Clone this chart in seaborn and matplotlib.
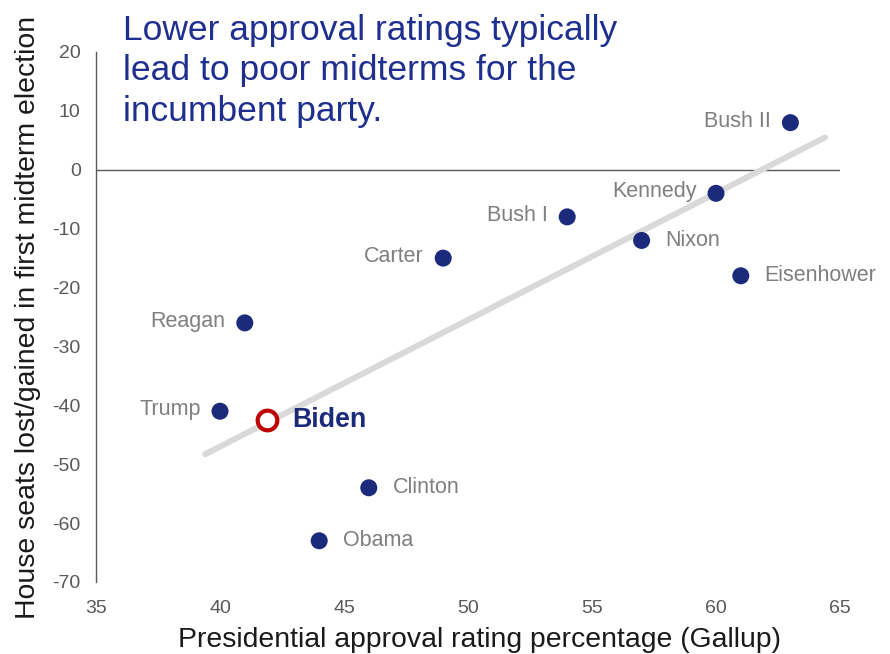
import numpy as np
import pandas as pd
import matplotlib
matplotlib.use("Agg")
import matplotlib.pyplot as plt
import seaborn as sns

presidents = ["Bush II", "Kennedy", "Bush I", "Nixon", "Eisenhower", "Carter",
              "Reagan", "Trump", "Clinton", "Obama"]
approval = [63, 60, 54, 57, 61, 49, 41, 40, 46, 44]
seats = [8, -4, -8, -12, -18, -15, -26, -41, -54, -63]
label_side = ["left", "left", "left", "right", "right", "left",
              "left", "left", "right", "right"]

biden_approval = [41.9]
biden_seats = [-42.5]

x_ticks = [35, 40, 45, 50, 55, 60, 65]
y_ticks = [20, 10, 0, -10, -20, -30, -40, -50, -60, -70]
trend_x = [39.4, 64.4]
trend_y = [-48.3, 5.5]

sns.set_style("white")
plt.rcParams['font.family'] = ['Liberation Sans', 'DejaVu Sans']
plt.rcParams['axes.unicode_minus'] = False

df = pd.DataFrame({"president": presidents, "approval": approval, "seats": seats})
bdf = pd.DataFrame({"approval": biden_approval, "seats": biden_seats})
tdf = pd.DataFrame({"x": trend_x, "y": trend_y})

fig = plt.figure(figsize=(8.9, 6.54), dpi=100)
ax = fig.add_axes([96/890, 1-582/654, (840-96)/890, (582-52)/654])

# trend line
sns.lineplot(data=tdf, x="x", y="y", ax=ax, color="#d9d9d9", linewidth=4.3,
             zorder=1)

# zero line
ax.axhline(0, color="#595959", linewidth=1.0, zorder=0.5)

sns.scatterplot(data=df, x="approval", y="seats", ax=ax, s=150, color="#1b2a7b",
                edgecolor="none", zorder=3)
sns.scatterplot(data=bdf, x="approval", y="seats", ax=ax, s=200, facecolor="white",
                edgecolor="#c00000", linewidth=3, zorder=4)

for name, xv, yv, side in zip(presidents, approval, seats, label_side):
    if side == "left":
        ax.annotate(name, (xv, yv), xytext=(-14, 1), textcoords="offset points",
                    ha="right", va="center", fontsize=15.5, color="#7f7f7f")
    else:
        ax.annotate(name, (xv, yv), xytext=(17, 0), textcoords="offset points",
                    ha="left", va="center", fontsize=15.5, color="#7f7f7f")

ax.annotate("Biden", (biden_approval[0], biden_seats[0]), xytext=(18, 0),
            textcoords="offset points", ha="left", va="center", fontsize=19.3,
            fontweight="bold", color="#1b2a7b")

ax.set_xlim(35, 65)
ax.set_ylim(-70, 20)
ax.set_xticks(x_ticks)
ax.set_yticks(y_ticks)
ax.tick_params(axis="x", length=0, pad=13, labelsize=14, labelcolor="#595959")
ax.tick_params(axis="y", length=0, pad=11, labelsize=14, labelcolor="#595959")

for s in ["top", "right", "bottom"]:
    ax.spines[s].set_visible(False)
ax.spines["left"].set_color("#595959")
ax.spines["left"].set_linewidth(1.0)

ax.set_xlabel("Presidential approval rating percentage (Gallup)", fontsize=20.4,
              color="#1a1a1a")
ax.xaxis.set_label_coords(0.516, -0.085)
ax.set_ylabel("House seats lost/gained in first midterm election", fontsize=20.4,
              color="#1a1a1a", labelpad=8)

fig.text(123/890, 1-14/654, "Lower approval ratings typically\nlead to poor midterms for the\nincumbent party.",
         ha="left", va="top", fontsize=25.5, color="#1f2f8f", linespacing=1.28)

fig.savefig("out.png", dpi=100)
